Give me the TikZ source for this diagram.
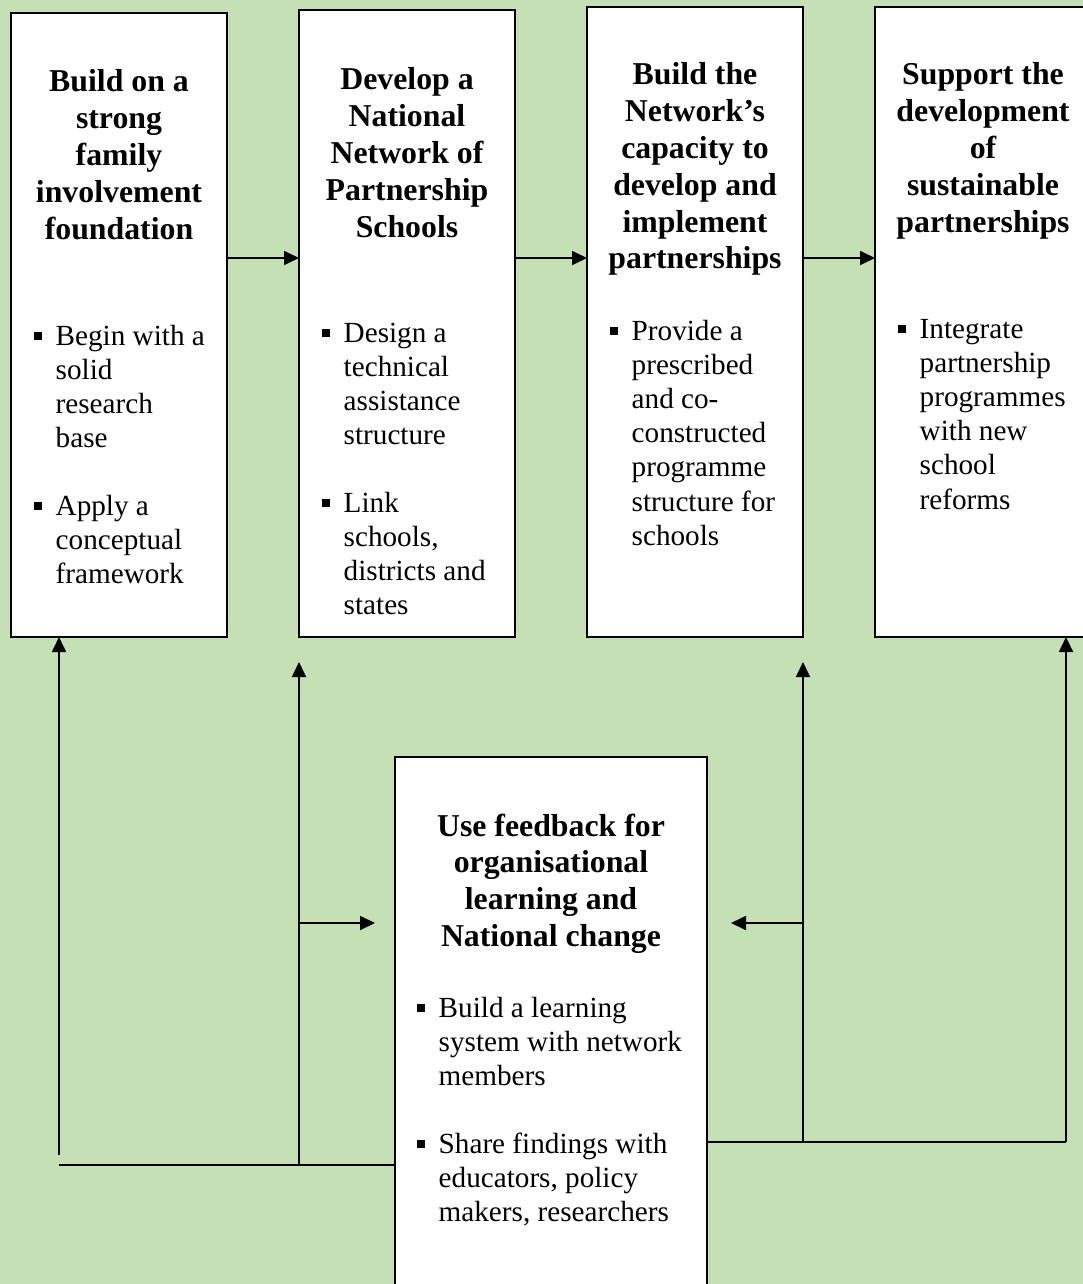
\documentclass[tikz,border=0pt]{standalone}
\usepackage{fontspec}
\setmainfont{Liberation Serif}
\usetikzlibrary{arrows.meta}
\definecolor{leafgreen}{HTML}{C5E0B4}
% small square bullet, raised above the baseline
\newcommand{\sqbullet}{\makebox[21.5pt][l]{\rule[5.5pt]{8pt}{8pt}}}

\begin{document}
\begin{tikzpicture}[x=1pt,y=-1pt,
  panel/.style={draw=black, line width=2pt, fill=white, inner sep=0pt,
    outer sep=0pt, minimum width=216pt, anchor=north west},
  heading/.style={anchor=base, inner sep=0pt,
    font=\fontsize{31.8}{36.8}\selectfont\bfseries},
  points/.style={anchor=base west, inner sep=0pt,
    font=\fontsize{29.2}{34.2}\selectfont},
  link/.style={draw=black, line width=1.7pt},
  conn/.style={link, -{Triangle[length=15pt,width=14pt]}}
]
\useasboundingbox (0,0) rectangle (1083,1284);
\clip (0,0) rectangle (1083,1284);
\fill[leafgreen] (0,0) rectangle (1083,1284);

% the four stages
\node[panel, minimum height=624pt] (b1) at (11,13) {};
\node[panel, minimum height=627pt] (b2) at (299,10) {};
\node[panel, minimum height=630pt] (b3) at (587,7) {};
\node[panel, minimum height=630pt] (b4) at (875,7) {};
% feedback stage
\node[panel, minimum width=312pt, minimum height=560pt] (fb) at (395,757) {};

% headings
\node[heading] (h1) at (119,92) {\begin{tabular}[t]{@{}c@{}}Build on a\\ strong\\ family\\ involvement\\ foundation\end{tabular}};
\node[heading] (h2) at (407,90) {\begin{tabular}[t]{@{}c@{}}Develop a\\ National\\ Network of\\ Partnership\\ Schools\end{tabular}};
\node[heading] (h3) at (695,85) {\begin{tabular}[t]{@{}c@{}}Build the\\ Network’s\\ capacity to\\ develop and\\ implement\\ partnerships\end{tabular}};
\node[heading] (h4) at (983,85) {\begin{tabular}[t]{@{}c@{}}Support the\\ development\\ of\\ sustainable\\ partnerships\end{tabular}};
\node[heading] (h5) at (551,836) {\begin{tabular}[t]{@{}c@{}}Use feedback for\\ organisational\\ learning and\\ National change\end{tabular}};

% bullet lists
\node[points] (p1) at (34,345) {\begin{tabular}[t]{@{}l@{}l@{}}
\sqbullet & Begin with a\\ & solid\\ & research\\ & base\\[33.5pt]
\sqbullet & Apply a\\ & conceptual\\ & framework\end{tabular}};
\node[points] (p2) at (322,342) {\begin{tabular}[t]{@{}l@{}l@{}}
\sqbullet & Design a\\ & technical\\ & assistance\\ & structure\\[33.5pt]
\sqbullet & Link\\ & schools,\\ & districts and\\ & states\end{tabular}};
\node[points] (p3) at (610,340) {\begin{tabular}[t]{@{}l@{}l@{}}
\sqbullet & Provide a\\ & prescribed\\ & and co-\\ & constructed\\ & programme\\ & structure for\\ & schools\end{tabular}};
\node[points] (p4) at (898,338) {\begin{tabular}[t]{@{}l@{}l@{}}
\sqbullet & Integrate\\ & partnership\\ & programmes\\ & with new\\ & school\\ & reforms\end{tabular}};
\node[points] (p5) at (417,1017) {\begin{tabular}[t]{@{}l@{}l@{}}
\sqbullet & Build a learning\\ & system with network\\ & members\\[33.5pt]
\sqbullet & Share findings with\\ & educators, policy\\ & makers, researchers\end{tabular}};

% forward flow between stages
\coordinate (row) at (0,258);
\draw[conn] (b1.east |- row) -- (b2.west |- row);
\draw[conn] (b2.east |- row) -- (b3.west |- row);
\draw[conn] (b3.east |- row) -- (b4.west |- row);

% feedback loops
\coordinate (lbus) at (0,1165);
\coordinate (rbus) at (0,1142);
\coordinate (tiprow) at (0,662);
\coordinate (midrow) at (0,923);
\coordinate (lend) at (59,1155);
\coordinate (lstart) at (59,1165);
\coordinate (rx) at (1066,0);
\coordinate (inL) at (375,923);
\coordinate (inR) at (731,923);

\draw[link] (fb.west |- lbus) -- (lstart);
\draw[conn] (lend) -- (lend |- b1.south);
\draw[conn] (b2.west |- lbus) -- (b2.west |- tiprow);
\draw[conn] (b2.west |- midrow) -- (inL);

\draw[link] (fb.east |- rbus) -- (rx |- rbus);
\draw[conn] (rx |- rbus) -- (rx |- b4.south);
\draw[conn] (b3.east |- rbus) -- (b3.east |- tiprow);
\draw[conn] (b3.east |- midrow) -- (inR);
\end{tikzpicture}
\end{document}
